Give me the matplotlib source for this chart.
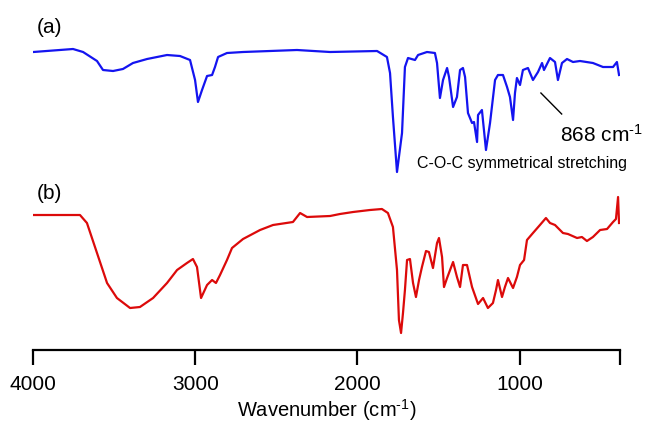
import matplotlib
matplotlib.use("Agg")
import matplotlib.pyplot as plt

plt.rcParams['font.family'] = ['Liberation Sans', 'DejaVu Sans']
plt.rcParams['mathtext.fontset'] = 'custom'
plt.rcParams['mathtext.rm'] = 'Liberation Sans'
plt.rcParams['mathtext.default'] = 'regular'

# spectrum (a), blue: wavenumber (cm-1) and offset transmittance (a.u.)
wn_a = [4000, 3755, 3693, 3607, 3570, 3508, 3447, 3385, 3298, 3175, 3095, 3033,
        3002, 2984, 2959, 2928, 2897, 2879, 2860, 2805, 2706, 2373, 2169, 1879,
        1818, 1799, 1781, 1756, 1725, 1707, 1688, 1645, 1626, 1571, 1522, 1509,
        1491, 1472, 1447, 1435, 1410, 1386, 1367, 1349, 1336, 1318, 1293, 1281,
        1262, 1256, 1232, 1207, 1182, 1151, 1133, 1102, 1077, 1059, 1040, 1028,
        1016, 997, 979, 948, 917, 886, 861, 849, 812, 781, 763, 738, 707, 670,
        627, 547, 485, 423, 399, 386]
t_a = [298, 301, 298, 289, 280, 279, 281, 287, 291, 295, 294, 290,
       270, 248, 260, 274, 275, 283, 293, 297, 298, 300, 298, 299,
       293, 277, 233, 178, 217, 283, 292, 290, 295, 298, 297, 287,
       252, 270, 282, 273, 243, 253, 280, 282, 273, 237, 227, 228,
       208, 235, 240, 200, 227, 270, 275, 275, 263, 253, 230, 257,
       272, 265, 280, 282, 270, 278, 287, 280, 292, 288, 270, 287, 291, 288,
       289, 287, 283, 283, 288, 275]

# spectrum (b), red
wn_b = [4000, 3712, 3669, 3607, 3545, 3484, 3403, 3342, 3261, 3175, 3113, 3052,
        3015, 2990, 2965, 2928, 2897, 2873, 2848, 2805, 2774, 2706, 2601, 2521,
        2398, 2354, 2311, 2169, 2108, 2027, 1923, 1849, 1812, 1781, 1756, 1744,
        1731, 1719, 1707, 1694, 1676, 1657, 1639, 1620, 1602, 1577, 1559, 1534,
        1509, 1497, 1478, 1466, 1447, 1410, 1386, 1367, 1349, 1324, 1293, 1256,
        1225, 1195, 1164, 1145, 1133, 1108, 1090, 1071, 1040, 1016, 997, 972,
        954, 917, 874, 837, 812, 781, 732, 701, 645, 615, 584, 547, 503, 460,
        423, 405, 392, 386]
t_b = [135, 135, 127, 97, 67, 52, 42, 43, 52, 67, 80, 87,
       91, 83, 52, 65, 70, 67, 75, 90, 102, 111, 120, 125,
       128, 137, 133, 134, 136, 138, 140, 141, 137, 123, 80, 30,
       17, 37, 60, 90, 91, 67, 53, 70, 83, 99, 98, 82,
       107, 112, 93, 63, 72, 88, 73, 63, 85, 85, 63, 46,
       52, 42, 47, 60, 70, 53, 63, 72, 62, 73, 85, 90,
       110, 117, 125, 132, 127, 125, 117, 116, 112, 113, 109, 113, 120, 121,
       128, 131, 153, 127]

xticks = [4000, 3000, 2000, 1000]

fig = plt.figure(figsize=(6.48, 4.22), dpi=100)
ax = fig.add_axes([0.0514, 0.1706, 0.9054, 0.8057])

ax.plot(wn_a, t_a, color='#1414f0', lw=1.6)
ax.plot(wn_b, t_b, color='#dc0a0a', lw=1.6)

ax.set_xlim(4000, 380)
ax.set_ylim(0, 340)
ax.set_xticks(xticks + [380])
ax.set_xticklabels([str(t) for t in xticks] + [''])
ax.set_yticks([])
for s in ['left', 'top', 'right']:
    ax.spines[s].set_visible(False)
ax.spines['bottom'].set_linewidth(1.6)
ax.tick_params(axis='x', direction='out', length=11, width=1.6, labelsize=15, pad=7)
ax.set_xlabel('Wavenumber (cm$^{\\text{-1}}$)', fontsize=14.5, labelpad=2)

ax.text(3979, 323, '(a)', fontsize=15, va='center', ha='left')
ax.text(3979, 157, '(b)', fontsize=15, va='center', ha='left')

ax.plot([868, 740], [257, 236], color='black', lw=1)
ax.text(752, 215, '868 cm$^{\\text{-1}}$', fontsize=15, va='center', ha='left', clip_on=False)
ax.text(1633, 187, 'C-O-C symmetrical stretching', fontsize=11.5, va='center',
        ha='left', clip_on=False)

fig.savefig('out.png', dpi=100)
